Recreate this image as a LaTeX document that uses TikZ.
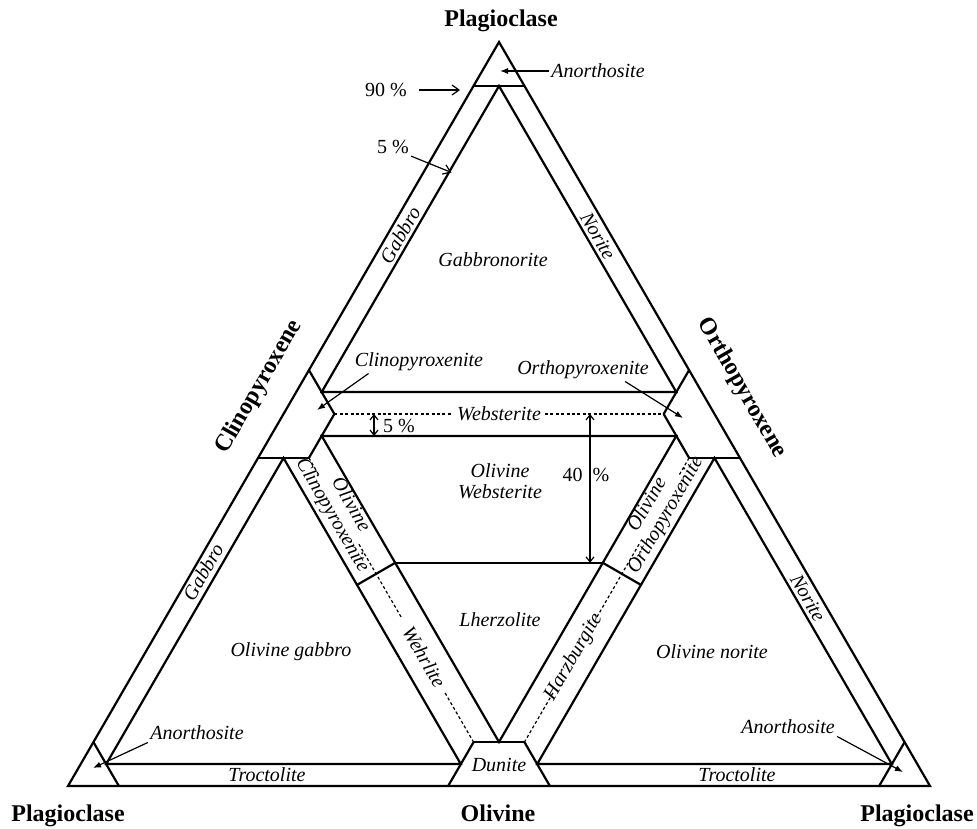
\documentclass[tikz,border=0pt]{standalone}
\usepackage{fontspec}
\setmainfont{Liberation Serif}
\usetikzlibrary{calc,arrows.meta}

% band width and corner cut, as fractions of a sub-triangle
\newcommand{\bandk}{0.8226}
\newcommand{\capk}{0.118}

% one sub-triangle: inner band triangle and the three corner cuts
\newcommand{\rocktri}[4]{%
  \coordinate (#4g) at ($0.3333*(#1)+0.3333*(#2)+0.3333*(#3)$);
  \coordinate (#4a) at ($(#4g)!\bandk!(#1)$);
  \coordinate (#4b) at ($(#4g)!\bandk!(#2)$);
  \coordinate (#4c) at ($(#4g)!\bandk!(#3)$);
  \draw[rimline] (#4a) -- (#4b) -- (#4c) -- cycle;
  \draw[rimline] ($(#1)!\capk!(#2)$) -- ($(#1)!\capk!(#3)$);
  \draw[rimline] ($(#2)!\capk!(#1)$) -- ($(#2)!\capk!(#3)$);
  \draw[rimline] ($(#3)!\capk!(#1)$) -- ($(#3)!\capk!(#2)$);
}

\begin{document}
\begin{tikzpicture}[x=0.5pt,y=-0.5pt,
    rimline/.style={line width=1.1pt},
    splitline/.style={line width=0.6pt,dash pattern=on 1.5pt off 1.2pt},
    rock/.style={font=\itshape\fontsize{10}{10.5}\selectfont,inner sep=1pt},
    mineral/.style={font=\bfseries\fontsize{12}{14}\selectfont,inner sep=0pt},
    pctlabel/.style={font=\fontsize{10}{12}\selectfont,inner sep=1pt},
    pointer/.style={line width=0.6pt,-{Latex[length=4pt,width=3pt]}},
    marker/.style={line width=0.6pt,-{Straight Barb[length=3.5pt,width=5pt]}},
    measure/.style={line width=0.6pt,{Straight Barb[length=2.5pt,width=4pt]}-{Straight Barb[length=2.5pt,width=4pt]}}]
    \useasboundingbox (0,0) rectangle (977,828);

    % Corners
    \coordinate (P) at (499,42);
    \coordinate (Bl) at (68,786);
    \coordinate (Br) at (930,786);
    \coordinate (Cx) at ($(P)!0.5!(Bl)$);
    \coordinate (Ox) at ($(P)!0.5!(Br)$);
    \coordinate (Ol) at ($(Bl)!0.5!(Br)$);
    \draw[rimline] (P) -- (Bl) -- (Br) -- cycle;

    % Sub-triangles
    \rocktri{P}{Cx}{Ox}{up}
    \rocktri{Cx}{Ox}{Ol}{mid}
    \rocktri{Cx}{Bl}{Ol}{lo}
    \rocktri{Ox}{Br}{Ol}{ro}

    % 40 % olivine
    \coordinate (f40L) at ($(Cx)!0.4!(Ol)$);
    \coordinate (f40R) at ($(Ox)!0.4!(Ol)$);
    \coordinate (x40L) at (intersection of f40L--f40R and mida--midc);
    \coordinate (x40R) at (intersection of f40L--f40R and midb--midc);
    \draw[rimline] (x40L) -- (x40R);
    \draw[rimline] (x40L) -- ($(loa)!(x40L)!(loc)$);
    \draw[rimline] (x40R) -- ($(roa)!(x40R)!(roc)$);

    % Shared edges
    \draw[splitline] ($(Cx)!\capk!(Ox)$) -- ($(Ox)!\capk!(Cx)$);
    \draw[splitline] ($(Cx)!\capk!(Ol)$) -- ($(Cx)!0.165!(Ol)$)
        ($(Cx)!0.35!(Ol)$) -- ($(Cx)!0.55!(Ol)$)
        ($(Cx)!0.75!(Ol)$) -- ($(Ol)!\capk!(Cx)$);
    \draw[splitline] ($(Ox)!\capk!(Ol)$) -- ($(Ox)!0.165!(Ol)$)
        ($(Ox)!0.35!(Ol)$) -- ($(Ox)!0.55!(Ol)$)
        ($(Ox)!0.75!(Ol)$) -- ($(Ol)!\capk!(Ox)$);

    % End members
    \node[mineral,anchor=base] (plagT) at (501,27) {Plagioclase};
    \node[mineral,anchor=base] (plagL) at (68,821) {Plagioclase};
    \node[mineral,anchor=base] (olv) at (498,821) {Olivine};
    \node[mineral,anchor=base] (plagR) at (917,821) {Plagioclase};
    \node[mineral,rotate=60] (cpx) at (259,387) {Clinopyroxene};
    \node[mineral,rotate=-60] (opx) at (742,388) {Orthopyroxene};

    % Rock names
    \node[rock] (anoT) at (598,71) {Anorthosite};
    \node[rock,rotate=60] (gabT) at (400,235) {Gabbro};
    \node[rock,rotate=-60] (norT) at (598,236) {Norite};
    \node[rock] (gabnor) at (493,260) {Gabbronorite};
    \node[rock] (cpxite) at (419,362) {Clinopyroxenite};
    \node[rock] (opxite) at (583,370) {Orthopyroxenite};
    \node[rock,fill=white,inner sep=2pt] (web) at (499,414) {Websterite};
    \node[rock,align=center] (olweb) at (500,481) {Olivine\\Websterite};
    \node[rock] (lherz) at (500,620) {Lherzolite};
    \node[rock,rotate=-60,align=center,xshift=1.3pt,yshift=0.8pt] (olcpx) at ($(Cx)!0.255!(Ol)$) {Olivine\\Clinopyroxenite};
    \node[rock,rotate=60,align=center,xshift=-1.3pt,yshift=0.8pt] (olopx) at ($(Ox)!0.255!(Ol)$) {Olivine\\Orthopyroxenite};
    \node[rock,rotate=-60] (wehr) at ($(Cx)!0.653!(Ol)$) {Wehrlite};
    \node[rock,rotate=60] (harz) at ($(Ox)!0.653!(Ol)$) {Harzburgite};
    \node[rock,rotate=60] (gabL) at (203,572) {Gabbro};
    \node[rock,rotate=-60] (norR) at (808,598) {Norite};
    \node[rock] (olgab) at (291,652) {Olivine gabbro};
    \node[rock] (olnor) at (712,652) {Olivine norite};
    \node[rock] (anoL) at (197,733) {Anorthosite};
    \node[rock] (anoR) at (788,727) {Anorthosite};
    \node[rock] (trocL) at (267,775) {Troctolite};
    \node[rock] (trocR) at (737,775) {Troctolite};
    \node[rock] (dun) at (499,765) {Dunite};

    % Pointers
    \coordinate (anoTtip) at (500,71);
    \coordinate (cpxtip) at (317,410);
    \coordinate (opxtip) at (683,418);
    \coordinate (anoLtip) at (93,768);
    \coordinate (anoRtip) at (903,772);
    \draw[pointer] (anoT.west) -- (anoTtip);
    \draw[pointer] ([xshift=8pt]cpxite.south west) -- (cpxtip);
    \draw[pointer] ([xshift=-13pt]opxite.south east) -- (opxtip);
    \draw[pointer] (anoL.south west) -- (anoLtip);
    \draw[pointer] (anoR.south east) -- (anoRtip);

    % Percentages
    \node[pctlabel] (p90) at (386,90) {90 \%};
    \node[pctlabel] (p5a) at (393,147) {5 \%};
    \node[pctlabel] (p5b) at (399,426) {5 \%};
    \node[pctlabel] (p40) at (586,475) {40\enspace\%};
    \coordinate (t90) at (460,90);
    \coordinate (t5) at (451.5,172.5);
    \coordinate (w5) at (374,414);
    \coordinate (w40) at (590,414);
    \draw[marker] ([xshift=5pt]p90.east) -- (t90);
    \draw[marker] (p5a.south east) -- (t5);
    \draw[measure] (w5) -- (w5 |- mida);
    \draw[measure] (w40) -- (w40 |- x40L);
\end{tikzpicture}
\end{document}
